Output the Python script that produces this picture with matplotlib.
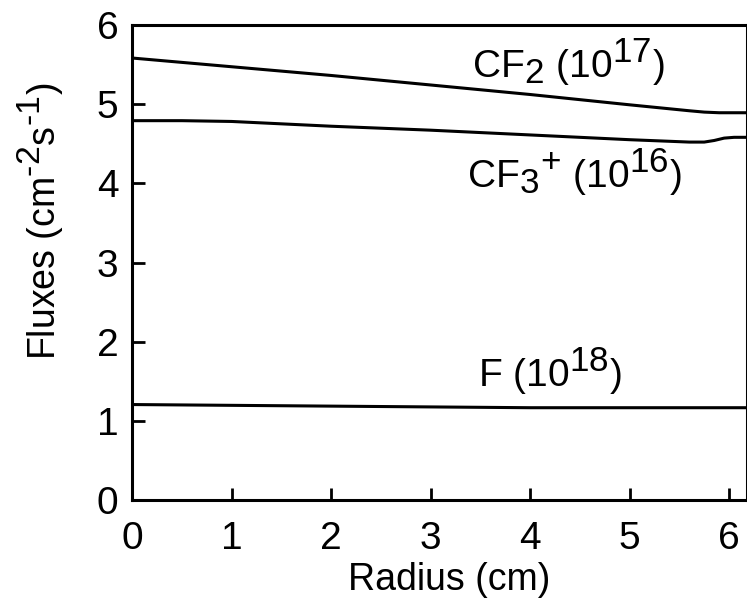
import numpy as np
import matplotlib
matplotlib.use("Agg")
import matplotlib.pyplot as plt
import matplotlib._mathtext as mathtext_core

plt.rcParams['font.family'] = ['Liberation Sans', 'DejaVu Sans']
plt.rcParams['mathtext.fontset'] = 'custom'
plt.rcParams['mathtext.rm'] = 'Liberation Sans'
plt.rcParams['mathtext.it'] = 'Liberation Sans'
plt.rcParams['mathtext.default'] = 'regular'
# keep sub/superscripts close to full size
mathtext_core.SHRINK_FACTOR = 0.9

# flux profiles along the radius, in the units given by each label
radius_cf2 = [0, 1, 2, 3, 4, 5, 5.4, 5.6, 5.75, 5.9, 6.2]
flux_cf2 = [5.58, 5.47, 5.36, 5.24, 5.12, 4.99, 4.94, 4.915, 4.898, 4.89, 4.89]

radius_cf3 = [0, 0.5, 1, 2, 3, 4, 5, 5.4, 5.6, 5.75, 5.85, 5.95, 6.05, 6.2]
flux_cf3 = [4.79, 4.79, 4.78, 4.72, 4.67, 4.61, 4.55, 4.53, 4.52, 4.52, 4.54, 4.57, 4.58, 4.58]

radius_f = [0, 1, 2, 3, 4, 5, 6, 6.2]
flux_f = [1.21, 1.2, 1.19, 1.18, 1.17, 1.17, 1.17, 1.17]

x_ticks = [0, 1, 2, 3, 4, 5, 6]
y_ticks = [0, 1, 2, 3, 4, 5, 6]

fig = plt.figure(figsize=(7.47, 6.03), dpi=100)
ax = fig.add_axes([0.177, 0.170, 0.823, 0.789])

ax.plot(radius_cf2, flux_cf2, color='black', lw=2.2)
ax.plot(radius_cf3, flux_cf3, color='black', lw=2.2)
ax.plot(radius_f, flux_f, color='black', lw=2.2)

ax.text(3.42, 5.34, r'CF$_2$ (10$^{17}$)', fontsize=28, ha='left', va='baseline')
ax.text(3.37, 3.95, r'CF$_3$$^{+}$ (10$^{16}$)', fontsize=28, ha='left', va='baseline')
ax.text(3.48, 1.44, r'F (10$^{18}$)', fontsize=28, ha='left', va='baseline')

ax.set_xlim(0, 6.18)
ax.set_ylim(0, 6)
ax.set_xticks(x_ticks)
ax.set_yticks(y_ticks)
ax.tick_params(direction='in', length=9, width=2, labelsize=28)
ax.tick_params(axis='x', pad=15)
ax.tick_params(axis='y', pad=10)
for s in ax.spines.values():
    s.set_linewidth(2.2)

ax.set_xlabel('Radius (cm)', fontsize=27)
ax.set_ylabel('Fluxes (cm$^{\u2010 2}$s$^{\u2010 1}$)', fontsize=27)
ax.xaxis.set_label_coords(0.515, -0.13)
ax.yaxis.set_label_coords(-0.11, 0.586)

fig.savefig('out.png', dpi=100)
